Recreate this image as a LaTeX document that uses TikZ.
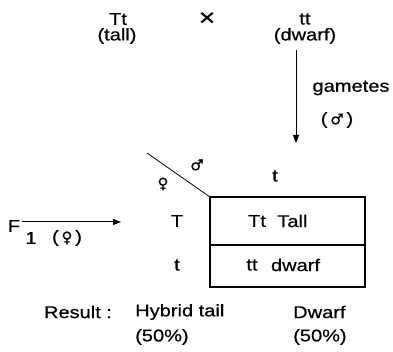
\documentclass[tikz,border=0pt]{standalone}
\usepackage{fontspec}
\setmainfont{Liberation Sans}[FakeStretch=1.18,FakeBold=0.6]
\newfontfamily\symfont{DejaVu Sans}[FakeBold=0.6]
\usetikzlibrary{arrows.meta,positioning}

\begin{document}
\begin{tikzpicture}[x=1pt,y=-1pt,
  every node/.style={inner sep=0pt,font=\fontsize{17}{17}\selectfont},
  sym/.style={font=\symfont\fontsize{15}{15}\selectfont},
  grid/.style={line width=1.2pt},
  arr/.style={line width=1pt,-{Triangle[length=8pt,width=6pt]}}]
\useasboundingbox (0,0) rectangle (393,352);

% parents
\node (Tt) at (118,19) {Tt};
\node (tall) at (117,36) {(tall)};
\node[font=\fontsize{24}{24}\selectfont] (cross) at (207,19) {×};
\node (tt) at (305,19) {tt};
\node (dwarf) at (305,36) {(dwarf)};

% male gametes
\coordinate (gtop) at (296,50);
\coordinate (gbot) at (296,143);
\draw[arr] (gtop) -- (gbot);
\node (gam) at (351,88) {gametes};
\node (male) at (337,120) {(\,{\symfont\fontsize{15}{15}\selectfont ♂}\,)};

% checkerboard
\coordinate (corner) at (210,197);
\coordinate (slash) at (147,153);
\draw[line width=0.8pt] (slash) -- (corner);
\node[sym] (msym) at (197,165) {♂};
\node[sym] (fsym) at (163,184) {♀};
\node (mt) at (275,176) {t};
\draw[grid] (corner) rectangle (365,287);
\draw[grid] (210,245) -- (365,245);
\draw[line width=2pt] (corner) -- (210,287);
\node (fT) at (177,221) {T};
\node (ft) at (177,265) {t};
\node (c1) at (257,221) {Tt};
\node[right=11pt of c1] (c1p) {Tall};
\node (c2) at (252,265) {tt};
\node[right=13pt of c2] (c2p) {dwarf};

% F1 female
\node (F) at (14,226) {F};
\node (F1) at (31,238) {1};
\node (Ffem) at (67,238) {(\,{\symfont\fontsize{15}{15}\selectfont ♀}\,)};
\coordinate (fstart) at (22,222);
\coordinate (fend) at (121,222);
\draw[arr] (fstart) -- (fend);

% result
\node (res) at (78,312) {Result :};
\node[anchor=west] (hyb) at (135,312) {Hybrid tail};
\node[anchor=west] (hybp) at (135,337) {(50\%)};
\node[anchor=west] (dw) at (293,312) {Dwarf};
\node[anchor=west] (dwp) at (293,337) {(50\%)};
\end{tikzpicture}
\end{document}
